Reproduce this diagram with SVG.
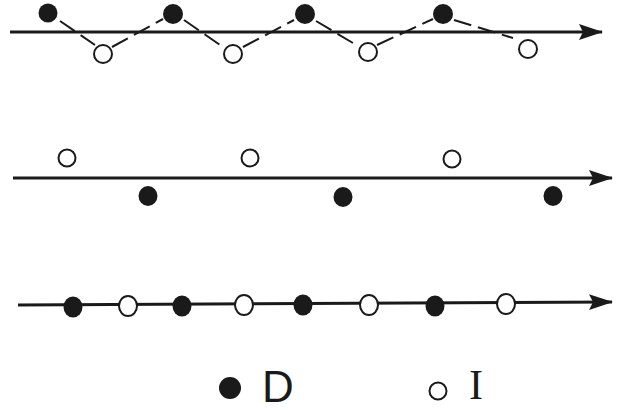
<svg xmlns="http://www.w3.org/2000/svg" width="618" height="410" viewBox="0 0 618 410">
<defs>
<style>
.axis{stroke:#1a1a1a;stroke-width:3;fill:none}
.zig{stroke:#1a1a1a;stroke-width:2;fill:none;stroke-dasharray:18 7}
.d{fill:#1a1a1a}
.i{fill:#fff;stroke:#1a1a1a;stroke-width:2}
.lbl{fill:#1a1a1a}
</style>
<marker id="arr" markerWidth="24" markerHeight="18" refX="23" refY="9" orient="auto" markerUnits="userSpaceOnUse">
<path d="M0,1 L24,9 L0,17 L4,9 Z" fill="#1a1a1a"/>
</marker>
</defs>
<rect width="618" height="410" fill="#fff"/>
<g id="connectors">
<line class="axis" x1="10" y1="32" x2="602" y2="32" marker-end="url(#arr)"/>
<polyline class="zig" points="60,21 95,45"/>
<polyline class="zig" points="112,47 163,19"/>
<polyline class="zig" points="184,20 223,47"/>
<polyline class="zig" points="243,47 294,20"/>
<polyline class="zig" points="316,21 358,46"/>
<polyline class="zig" points="377,45 433,19"/>
<polyline class="zig" points="454,20 513,38"/>
<line class="axis" x1="13" y1="178" x2="612" y2="178" marker-end="url(#arr)"/>
<line class="axis" x1="18" y1="305" x2="612" y2="302" marker-end="url(#arr)"/>
</g>
<g id="row1">
<circle class="d" cx="48" cy="13" r="9.5"/>
<circle class="d" cx="173" cy="14" r="10"/>
<circle class="d" cx="305" cy="14" r="10"/>
<circle class="d" cx="443" cy="14" r="10"/>
<circle class="i" cx="103" cy="54" r="9"/>
<circle class="i" cx="233" cy="54" r="9"/>
<circle class="i" cx="368" cy="52" r="9"/>
<circle class="i" cx="528" cy="49" r="9"/>
</g>
<g id="row2">
<circle class="i" cx="67" cy="158" r="8.5"/>
<circle class="i" cx="250" cy="158" r="8.5"/>
<circle class="i" cx="452" cy="159" r="8.5"/>
<ellipse class="d" cx="148" cy="196" rx="9.5" ry="10"/>
<ellipse class="d" cx="343" cy="197" rx="9.5" ry="10"/>
<ellipse class="d" cx="553" cy="196" rx="9.5" ry="10"/>
</g>
<g id="row3">
<ellipse class="d" cx="73" cy="307" rx="9.5" ry="10.5"/>
<ellipse class="d" cx="182" cy="306" rx="9.5" ry="10.5"/>
<ellipse class="d" cx="303" cy="305" rx="9.5" ry="10.5"/>
<ellipse class="d" cx="435" cy="306" rx="9.5" ry="10.5"/>
<ellipse class="i" cx="128" cy="306" rx="9" ry="10"/>
<ellipse class="i" cx="244" cy="305" rx="9" ry="10"/>
<ellipse class="i" cx="369" cy="305" rx="9" ry="10"/>
<ellipse class="i" cx="506" cy="304" rx="9" ry="10"/>
</g>
<g id="legend-D">
<circle class="d" cx="230" cy="388" r="11"/>
<text class="lbl" x="262" y="402" font-family="Liberation Sans, sans-serif" font-size="44">D</text>
</g>
<g id="legend-I">
<circle class="i" cx="438" cy="391" r="8.5"/>
<text class="lbl" x="469" y="399" font-family="Liberation Serif, serif" font-size="42">I</text>
</g>
</svg>
